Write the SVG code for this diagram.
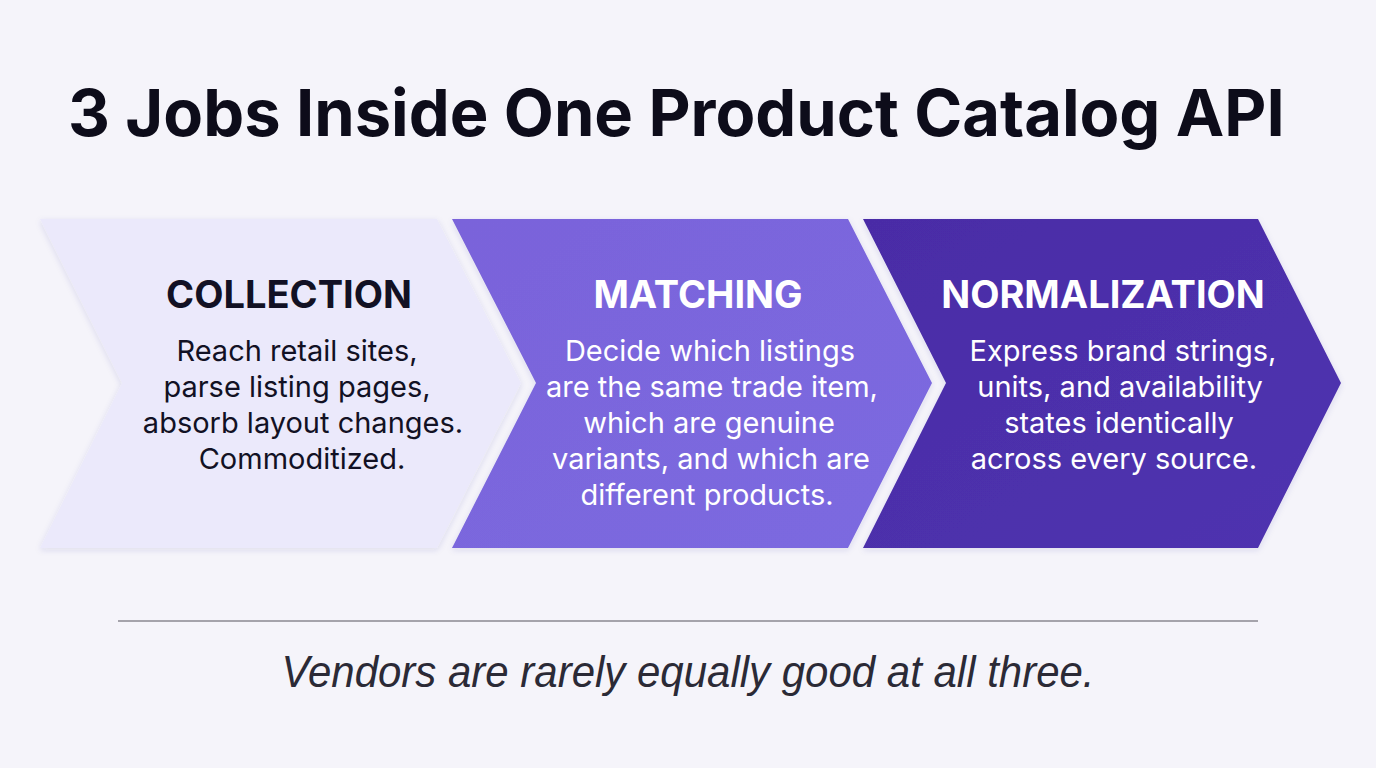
<svg xmlns="http://www.w3.org/2000/svg" width="1376" height="768" viewBox="0 0 1376 768">
<style>
.title{font-family:Inter,"Liberation Sans",sans-serif;font-weight:700;font-size:65px;fill:#0d0c1a}
.head{font-family:Inter,"Liberation Sans",sans-serif;font-weight:700;font-size:38px;text-anchor:middle}
.body{font-family:Inter,"Liberation Sans",sans-serif;font-size:29px;text-anchor:middle}
.dark{fill:#121124}
.light{fill:#ffffff}
.foot{font-family:"Liberation Sans",Arial,sans-serif;font-style:italic;font-size:44px;fill:#2b2a36;text-anchor:middle}
</style>
<defs>
<filter id="sh" x="-5%" y="-5%" width="110%" height="115%">
<feDropShadow dx="0" dy="2" stdDeviation="3" flood-color="#3a2a8a" flood-opacity="0.12"/>
</filter>
<linearGradient id="g2" x1="0" y1="0" x2="1" y2="1">
<stop offset="0" stop-color="#7a63da"/>
<stop offset="1" stop-color="#7b6ae0"/>
</linearGradient>
<linearGradient id="g3" x1="0" y1="0" x2="1" y2="1">
<stop offset="0" stop-color="#4a2ca6"/>
<stop offset="1" stop-color="#4f33b0"/>
</linearGradient>
</defs>
<rect width="1376" height="768" fill="#f5f4fa"/>
<text class="title" x="68" y="136">3 Jobs Inside One Product Catalog API</text>
<g id="collection">
<polygon points="40,219 437,219 521,383 437,548 40,548 122,383" fill="#ebe9fb" filter="url(#sh)"/>
<text class="head dark" x="289" y="308">COLLECTION</text>
<text class="body dark" x="297" y="361">Reach retail sites,</text>
<text class="body dark" x="297" y="397">parse listing pages,</text>
<text class="body dark" x="303" y="433">absorb layout changes.</text>
<text class="body dark" x="302" y="469">Commoditized.</text>
</g>
<g id="matching">
<polygon points="452,219 848,219 932,383 848,548 452,548 536,383" fill="url(#g2)" filter="url(#sh)"/>
<text class="head light" x="698" y="308">MATCHING</text>
<text class="body light" x="710" y="361">Decide which listings</text>
<text class="body light" x="712" y="397">are the same trade item,</text>
<text class="body light" x="709" y="433">which are genuine</text>
<text class="body light" x="711" y="469">variants, and which are</text>
<text class="body light" x="707" y="505">different products.</text>
</g>
<g id="normalization">
<polygon points="863,219 1258,219 1341,383 1258,548 863,548 946,383" fill="url(#g3)" filter="url(#sh)"/>
<text class="head light" x="1103" y="308">NORMALIZATION</text>
<text class="body light" x="1123" y="361">Express brand strings,</text>
<text class="body light" x="1120" y="397">units, and availability</text>
<text class="body light" x="1119" y="433">states identically</text>
<text class="body light" x="1114" y="469">across every source.</text>
</g>
<g id="connectors"></g>
<line x1="118" y1="621" x2="1258" y2="621" stroke="#8a8990" stroke-width="1.5"/>
<text class="foot" x="688" y="687" textLength="813" lengthAdjust="spacingAndGlyphs">Vendors are rarely equally good at all three.</text>
</svg>
